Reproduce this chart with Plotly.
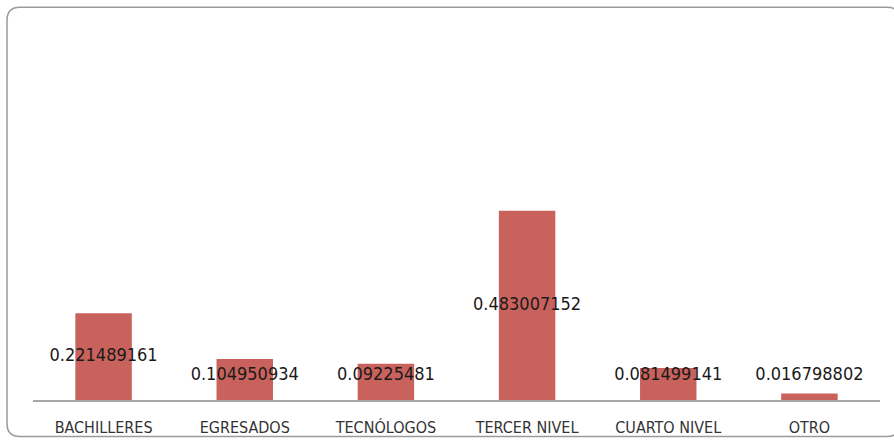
import plotly.graph_objects as go

# Data
categories = ['BACHILLERES', 'EGRESADOS', 'TECNÓLOGOS', 'TERCER NIVEL', 'CUARTO NIVEL', 'OTRO']
values = [0.221489161, 0.104950934, 0.09225481, 0.483007152, 0.081499141, 0.016798802]
value_labels = ['0.221489161', '0.104950934', '0.09225481', '0.483007152', '0.081499141', '0.016798802']

# the captured page comes out ~1.3% shorter than it is drawn, so lay out on a
# slightly taller canvas and convert target pixel rows with K
K = 449 / 443
W, H = 894, 449
ML, MR = 33, 14
MT = round(28 * K)
MB = H - round(399 * K)
Y_MAX = 0.95
FONT = 'DejaVu Sans Condensed, Roboto, sans-serif'

# label sits in the middle of the bar, but never lower than a minimum height
min_label_y = 0.062
label_y = [max(v / 2, min_label_y) for v in values]

fig = go.Figure()

fig.add_trace(go.Bar(
    x=categories,
    y=values,
    marker=dict(color='#C9625C', line_width=0),
    hoverinfo='skip',
    showlegend=False
))

fig.add_trace(go.Scatter(
    x=categories,
    y=label_y,
    mode='text',
    text=value_labels,
    textposition='middle center',
    textfont=dict(family=FONT, size=18, color='#1a1a1a'),
    hoverinfo='skip',
    showlegend=False
))


# pixel (as seen in the final picture) -> paper helpers for the rounded frame
def px(x):
    return (x - ML) / (W - ML - MR)


def py(y):
    return (H - MB - y * K) / (H - MT - MB)


x0, y0, x1, y1, r = 7, 7, 900, 435, 13
path = (
    f'M {px(x0 + r)} {py(y0)} L {px(x1 - r)} {py(y0)} '
    f'Q {px(x1)} {py(y0)} {px(x1)} {py(y0 + r)} '
    f'L {px(x1)} {py(y1 - r)} Q {px(x1)} {py(y1)} {px(x1 - r)} {py(y1)} '
    f'L {px(x0 + r)} {py(y1)} Q {px(x0)} {py(y1)} {px(x0)} {py(y1 - r)} '
    f'L {px(x0)} {py(y0 + r)} Q {px(x0)} {py(y0)} {px(x0 + r)} {py(y0)} Z'
)
fig.add_shape(type='path', path=path, xref='paper', yref='paper',
              line=dict(color='#9a9a9a', width=1.5), layer='below')

fig.update_layout(
    width=W,
    height=H,
    margin=dict(l=ML, r=MR, t=MT, b=MB),
    paper_bgcolor='white',
    plot_bgcolor='white',
    bargap=0.6,
    xaxis=dict(
        showline=True,
        linecolor='#a6a6a6',
        linewidth=1.5,
        showgrid=False,
        ticks='',
        ticklabelstandoff=12,
        tickfont=dict(family=FONT, size=16, color='#333333'),
        fixedrange=True
    ),
    yaxis=dict(
        range=[0, Y_MAX],
        visible=False,
        showgrid=False,
        zeroline=False,
        fixedrange=True
    )
)

fig.write_html('out.html', config={'displayModeBar': False},
               post_script="document.body.style.margin='0';")
